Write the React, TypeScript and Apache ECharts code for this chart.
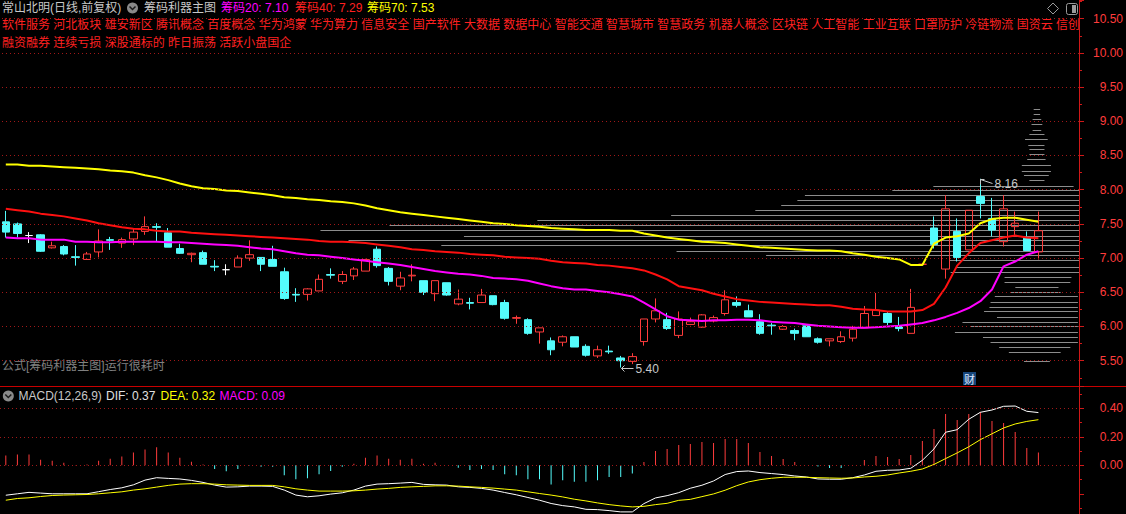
import React, { useEffect, useRef } from 'react';
import * as echarts from 'echarts';

// ---------- K-line data (90 trading days) ----------
const opens = [
  7.53, 7.50, 7.33, 7.34, 7.15, 7.17, 7.02, 6.98, 7.09, 7.27,
  7.22, 7.28, 7.39, 7.46, 7.37, 7.14, 7.05, 7.08, 6.88, 6.83,
  6.87, 7.00, 7.01, 6.98, 6.80, 6.47, 6.47, 6.52, 6.76, 6.66,
  6.74, 6.81, 7.13, 6.85, 6.59, 6.74, 6.67, 6.48, 6.64, 6.33,
  6.35, 6.35, 6.45, 6.35, 6.12, 6.10, 5.92, 5.79, 5.77, 5.85,
  5.71, 5.57, 5.64, 5.54, 5.49, 5.78, 6.11, 6.10, 5.87, 6.03,
  5.99, 6.08, 6.19, 6.35, 6.23, 6.07, 6.02, 5.96, 5.94, 6.01,
  5.82, 5.79, 5.78, 5.83, 5.98, 6.16, 6.19, 6.00, 5.90, 6.91,
  7.44, 6.84, 7.39, 7.12, 7.90, 7.58, 7.24, 7.46, 7.29, 7.09,
];
const closes = [
  7.38, 7.36, 7.33, 7.10, 7.18, 7.06, 7.01, 7.06, 7.25, 7.26,
  7.27, 7.38, 7.46, 7.45, 7.16, 7.07, 7.07, 6.91, 6.87, 6.83,
  7.00, 7.05, 6.91, 6.88, 6.41, 6.46, 6.55, 6.69, 6.75, 6.76,
  6.84, 6.98, 6.89, 6.66, 6.71, 6.75, 6.50, 6.67, 6.46, 6.40,
  6.34, 6.46, 6.32, 6.12, 6.13, 5.90, 5.98, 5.66, 5.85, 5.70,
  5.58, 5.66, 5.63, 5.50, 5.56, 6.11, 6.23, 5.97, 6.11, 6.07,
  6.17, 6.13, 6.39, 6.31, 6.14, 5.90, 6.01, 6.00, 5.90, 5.85,
  5.77, 5.82, 5.85, 5.96, 6.19, 6.24, 6.06, 5.97, 6.28, 6.91,
  7.20, 7.72, 7.01, 7.70, 7.80, 7.41, 7.72, 7.51, 7.11, 7.40,
];
const lows = [
  7.30, 7.30, 7.22, 7.09, 7.14, 7.04, 6.89, 6.98, 7.01, 7.12,
  7.15, 7.19, 7.34, 7.24, 7.16, 7.06, 6.94, 6.91, 6.81, 6.75,
  6.87, 6.96, 6.81, 6.88, 6.39, 6.36, 6.38, 6.52, 6.70, 6.62,
  6.68, 6.81, 6.86, 6.60, 6.53, 6.66, 6.46, 6.37, 6.45, 6.31,
  6.25, 6.35, 6.31, 6.10, 6.04, 5.88, 5.75, 5.58, 5.71, 5.70,
  5.56, 5.54, 5.60, 5.40, 5.45, 5.72, 6.06, 5.95, 5.83, 6.02,
  5.98, 6.06, 6.16, 6.28, 6.14, 5.88, 5.88, 5.95, 5.80, 5.85,
  5.75, 5.71, 5.76, 5.78, 5.98, 6.16, 6.02, 5.93, 5.90, 6.91,
  7.14, 6.70, 6.95, 7.12, 7.58, 7.32, 7.17, 7.34, 7.11, 6.98,
];
const highs = [
  7.69, 7.52, 7.38, 7.35, 7.24, 7.19, 7.19, 7.09, 7.42, 7.31,
  7.30, 7.44, 7.61, 7.51, 7.44, 7.21, 7.08, 7.11, 6.97, 6.91,
  7.04, 7.26, 7.01, 7.18, 6.86, 6.56, 6.56, 6.76, 6.85, 6.81,
  6.87, 6.99, 7.17, 6.87, 6.80, 6.91, 6.67, 6.67, 6.64, 6.54,
  6.42, 6.55, 6.45, 6.39, 6.16, 6.12, 5.98, 5.84, 5.87, 5.85,
  5.74, 5.72, 5.72, 5.57, 5.61, 6.11, 6.41, 6.20, 6.22, 6.13,
  6.18, 6.16, 6.53, 6.44, 6.32, 6.18, 6.05, 6.02, 5.97, 6.01,
  5.84, 5.82, 5.93, 6.01, 6.30, 6.49, 6.21, 6.14, 6.55, 6.91,
  7.61, 7.92, 7.58, 7.70, 8.16, 7.88, 7.92, 7.68, 7.39, 7.68,
];
const whiteDoji = [2, 19];

// ---------- 筹码 lines ----------
const chip70 = [
  8.37, 8.37, 8.35, 8.35, 8.34, 8.33, 8.32, 8.31, 8.30, 8.28,
  8.27, 8.25, 8.21, 8.18, 8.14, 8.09, 8.05, 8.02, 8.01, 7.99,
  7.98, 7.96, 7.94, 7.92, 7.89, 7.88, 7.86, 7.85, 7.83, 7.82,
  7.80, 7.77, 7.73, 7.70, 7.67, 7.65, 7.63, 7.61, 7.59, 7.57,
  7.55, 7.53, 7.51, 7.50, 7.48, 7.47, 7.46, 7.44, 7.43, 7.42,
  7.41, 7.41, 7.41, 7.40, 7.40, 7.36, 7.33, 7.30, 7.28, 7.26,
  7.24, 7.23, 7.22, 7.20, 7.18, 7.16, 7.15, 7.14, 7.13, 7.12,
  7.11, 7.11, 7.10, 7.07, 7.05, 7.02, 7.00, 6.98, 6.90, 6.90,
  7.21, 7.30, 7.32, 7.36, 7.51, 7.57, 7.59, 7.59, 7.56, 7.53,
];
const chip40 = [
  7.72, 7.70, 7.68, 7.65, 7.63, 7.61, 7.58, 7.55, 7.51, 7.48,
  7.45, 7.43, 7.42, 7.40, 7.39, 7.39, 7.37, 7.36, 7.35, 7.34,
  7.33, 7.32, 7.31, 7.30, 7.29, 7.28, 7.27, 7.25, 7.24, 7.24,
  7.23, 7.22, 7.20, 7.18, 7.16, 7.13, 7.12, 7.10, 7.09, 7.08,
  7.06, 7.05, 7.04, 7.02, 7.01, 7.00, 6.99, 6.96, 6.94, 6.93,
  6.92, 6.90, 6.89, 6.87, 6.85, 6.82, 6.76, 6.69, 6.59, 6.56,
  6.53, 6.48, 6.44, 6.40, 6.38, 6.36, 6.35, 6.34, 6.33, 6.32,
  6.31, 6.31, 6.29, 6.26, 6.25, 6.24, 6.22, 6.22, 6.22, 6.24,
  6.33, 6.57, 6.89, 7.07, 7.22, 7.26, 7.30, 7.33, 7.30, 7.29,
];
const chip20 = [
  7.30, 7.29, 7.29, 7.27, 7.27, 7.27, 7.24, 7.24, 7.23, 7.23,
  7.24, 7.24, 7.24, 7.24, 7.23, 7.23, 7.22, 7.21, 7.20, 7.19,
  7.18, 7.16, 7.14, 7.13, 7.10, 7.07, 7.05, 7.04, 7.02, 7.00,
  6.98, 6.96, 6.94, 6.92, 6.90, 6.87, 6.84, 6.81, 6.79, 6.77,
  6.76, 6.74, 6.71, 6.70, 6.69, 6.67, 6.63, 6.59, 6.56, 6.54,
  6.54, 6.52, 6.50, 6.47, 6.44, 6.35, 6.25, 6.15, 6.10, 6.09,
  6.08, 6.09, 6.09, 6.10, 6.10, 6.09, 6.07, 6.06, 6.05, 6.03,
  6.01, 6.00, 5.99, 5.98, 5.98, 5.99, 6.00, 6.01, 6.03, 6.05,
  6.09, 6.14, 6.20, 6.27, 6.37, 6.54, 6.88, 6.95, 7.05, 7.10,
];

// ---------- chip distribution (price level, start, end: volume units from right axis) ----------
const chipPrice = [
  9.18, 9.10, 9.03, 8.96, 8.88, 8.81, 8.74, 8.66, 8.59, 8.52, 8.45, 8.36, 8.28, 8.21, 8.14,
  8.06, 7.99, 7.92, 7.85, 7.77, 7.70, 7.63, 7.55, 7.48, 7.41, 7.33, 7.26, 7.19, 7.11, 7.04, 6.97,
  6.87, 6.80, 6.73, 6.65, 6.58, 6.51, 6.44, 6.36, 6.29, 6.22, 6.14, 6.07, 6.00, 5.92, 5.85, 5.78, 5.70, 5.63, 5.50,
];
const chipFrom = [
  3.6, 3.6, 3.5, 3.4, 3.5, 3.2, 2.9, 3.2, 3.2, 3.2, 3.1, 2.6, 2.6, 2.8, 3.2,
  0.5, 0, 0, 0, 0, 0, 0, 0, 0, 0, 0, 0, 0, 0, 0, 0,
  0, 0, 0.7, 0.8, 1.9, 1.7, 0.1, 0.1, 0.1, 0.1, 0.1, 0.1, 0.1, 0.1, 0.1, 0.1, 0.8, 1.7, 2.7,
];
const chipTo = [
  4.2, 4.2, 4.3, 4.4, 4.3, 4.6, 5.0, 4.7, 4.6, 4.6, 4.8, 5.3, 5.3, 5.1, 4.6,
  13.5, 17.3, 25.4, 26.1, 27.6, 30.0, 37.8, 50.2, 63.9, 70.3, 57.0, 67.7, 59.1, 37.3, 29.0, 12.0,
  11.4, 11.9, 6.9, 6.9, 5.9, 6.3, 7.8, 8.2, 8.3, 8.8, 7.6, 10.8, 10.1, 11.5, 8.9, 8.2, 7.4, 6.5, 5.1,
];

// ---------- MACD ----------
const dif = [
  -0.21, -0.20, -0.19, -0.195, -0.20, -0.20, -0.20, -0.20, -0.185, -0.17,
  -0.158, -0.137, -0.104, -0.087, -0.092, -0.096, -0.106, -0.12, -0.139, -0.153,
  -0.151, -0.146, -0.146, -0.148, -0.174, -0.209, -0.221, -0.214, -0.202, -0.193,
  -0.174, -0.146, -0.132, -0.129, -0.125, -0.12, -0.134, -0.137, -0.139, -0.151,
  -0.155, -0.162, -0.174, -0.191, -0.207, -0.226, -0.245, -0.268, -0.283, -0.292,
  -0.309, -0.311, -0.318, -0.327, -0.327, -0.269, -0.229, -0.213, -0.192, -0.161,
  -0.140, -0.110, -0.065, -0.044, -0.040, -0.051, -0.058, -0.065, -0.075, -0.082,
  -0.096, -0.098, -0.098, -0.087, -0.068, -0.042, -0.035, -0.033, -0.021, 0.035,
  0.115, 0.232, 0.250, 0.323, 0.372, 0.388, 0.414, 0.416, 0.379, 0.37,
];
const dea = [
  -0.245, -0.233, -0.228, -0.219, -0.212, -0.209, -0.207, -0.205, -0.2, -0.193,
  -0.186, -0.174, -0.165, -0.153, -0.141, -0.132, -0.129, -0.129, -0.132, -0.137,
  -0.139, -0.141, -0.141, -0.141, -0.151, -0.165, -0.174, -0.181, -0.181, -0.181,
  -0.179, -0.174, -0.167, -0.162, -0.155, -0.151, -0.148, -0.144, -0.144, -0.146,
  -0.151, -0.155, -0.16, -0.167, -0.174, -0.186, -0.198, -0.209, -0.222, -0.238,
  -0.25, -0.264, -0.276, -0.285, -0.292, -0.288, -0.276, -0.267, -0.246, -0.239,
  -0.22, -0.201, -0.175, -0.143, -0.117, -0.101, -0.091, -0.084, -0.084, -0.084,
  -0.087, -0.089, -0.091, -0.089, -0.082, -0.077, -0.068, -0.054, -0.042, -0.026,
  0.006, 0.047, 0.087, 0.13, 0.18, 0.221, 0.262, 0.29, 0.308, 0.32,
];
const macdHist = [
  0.068, 0.075, 0.075, 0.039, 0.032, 0.017, 0.002, 0.006, 0.032, 0.046,
  0.061, 0.09, 0.111, 0.126, 0.09, 0.053, 0.025, 0.005, -0.026, -0.041,
  -0.026, -0.002, -0.011, -0.011, -0.069, -0.098, -0.091, -0.062, -0.04, -0.011,
  0.01, 0.053, 0.068, 0.046, 0.039, 0.046, 0.01, 0.017, 0.001, -0.018,
  -0.033, -0.026, -0.033, -0.062, -0.069, -0.098, -0.098, -0.134, -0.105, -0.115,
  -0.115, -0.105, -0.082, -0.082, -0.058, 0.023, 0.10, 0.115, 0.143, 0.15,
  0.164, 0.157, 0.185, 0.185, 0.157, 0.094, 0.065, 0.044, 0.023, 0.001,
  -0.009, -0.019, -0.019, 0.0, 0.037, 0.065, 0.058, 0.044, 0.073, 0.171,
  0.255, 0.36, 0.318, 0.36, 0.374, 0.311, 0.297, 0.234, 0.122, 0.09,
];

// ---------- ticks / texts ----------
const priceGrid = [5.5, 6.0, 6.5, 7.0, 7.5, 8.0, 8.5, 9.0, 9.5, 10.0, 10.5];
const macdGrid = [0, 0.2, 0.4];
const SLOTS = 93;
const titleStock = '常山北明(日线,前复权)';
const titleFormula = '筹码利器主图';
const chipLabels = ['筹码20: 7.10', '筹码40: 7.29', '筹码70: 7.53'];
const tagsLine1 =
  '软件服务 河北板块 雄安新区 腾讯概念 百度概念 华为鸿蒙 华为算力 信息安全 国产软件 大数据 数据中心 智能交通 智慧城市 智慧政务 机器人概念 区块链 人工智能 工业互联 口罩防护 冷链物流 国资云 信创';
const tagsLine2 = '融资融券 连续亏损 深股通标的 昨日振荡 活跃小盘国企';
const slowNote = '公式[筹码利器主图]运行很耗时';
const macdTitle = ['MACD(12,26,9)', 'DIF: 0.37', 'DEA: 0.32', 'MACD: 0.09'];

const RED = '#ff3c3c';
const CYAN = '#54fcfc';
const AXIS = '#d01818';
const DOT = '#a01818';
const FONT = '12px "Liberation Sans", "Noto Sans CJK SC", sans-serif';

function icon(cx: number, cy: number) {
  return [
    { type: 'circle', shape: { cx, cy, r: 5.5 }, style: { fill: '#8a8a8a' } },
    {
      type: 'polyline',
      shape: { points: [[cx - 3, cy - 1.5], [cx, cy + 1.5], [cx + 3, cy - 1.5]] },
      style: { stroke: '#1a1a1a', lineWidth: 1.5, fill: 'none' },
    },
  ];
}

function txt(x: number, y: number, text: string, fill: string, extra: any = {}) {
  return { type: 'text', x, y, style: { text, fill, font: FONT, verticalAlign: 'middle', ...extra } };
}

export default function App() {
  const ref = useRef<HTMLDivElement>(null);

  useEffect(() => {
    if (!ref.current) return;
    const chart = echarts.init(ref.current, null, { renderer: 'svg' });
    const cats = Array.from({ length: SLOTS }, (_, i) => String(i));

    const kData = opens.map((o, i) => {
      const v = [o, closes[i], lows[i], highs[i]];
      if (whiteDoji.includes(i)) {
        return {
          value: v,
          itemStyle: { color: '#fff', color0: '#fff', borderColor: '#fff', borderColor0: '#fff', borderColorDoji: '#fff' },
        };
      }
      return v;
    });

    const chipData = chipPrice.map((p, i) => [chipFrom[i], p, chipTo[i]]);

    let lowIdx = 0;
    let highIdx = 0;
    lows.forEach((v, i) => { if (v < lows[lowIdx]) lowIdx = i; });
    highs.forEach((v, i) => { if (v > highs[highIdx]) highIdx = i; });
    const annData = [
      [lowIdx, lows[lowIdx], 0],
      [highIdx, highs[highIdx], 1],
    ];

    const option: any = {
      animation: false,
      backgroundColor: '#000',
      grid: [
        { left: 0, top: 0, width: 1081, height: 386 },
        { left: 0, top: 386, width: 1081, height: 128 },
      ],
      xAxis: [
        { type: 'category', gridIndex: 0, data: cats, show: false, boundaryGap: true },
        { type: 'value', gridIndex: 0, min: 0, max: 100, inverse: true, show: false },
        { type: 'category', gridIndex: 1, data: cats, show: false, boundaryGap: true },
      ],
      yAxis: [
        {
          type: 'value',
          gridIndex: 0,
          position: 'right',
          min: 5.1301,
          max: 10.7734,
          splitNumber: 11,
          minInterval: 0.5,
          maxInterval: 0.5,
          axisLine: { show: true, onZero: false, lineStyle: { color: AXIS, width: 1 } },
          axisTick: { show: true, length: 5, lineStyle: { color: AXIS } },
          minorTick: { show: true, splitNumber: 2, length: 3, lineStyle: { color: AXIS } },
          splitLine: { show: false },
          axisLabel: {
            color: RED,
            fontSize: 12,
            fontFamily: '"Liberation Sans", sans-serif',
            align: 'right',
            margin: 44,
            formatter: (v: number) => {
              const r = Math.round(v * 2) / 2;
              return Math.abs(v - r) < 1e-6 && r >= 5.5 && r <= 10.5 ? r.toFixed(2) : '';
            },
          },
        },
        {
          type: 'value',
          gridIndex: 1,
          position: 'right',
          min: -0.3418,
          max: 0.5565,
          splitNumber: 4,
          minInterval: 0.2,
          maxInterval: 0.2,
          axisLine: { show: true, onZero: false, lineStyle: { color: AXIS, width: 1 } },
          axisTick: { show: true, length: 5, lineStyle: { color: AXIS } },
          minorTick: { show: true, splitNumber: 2, length: 3, lineStyle: { color: AXIS } },
          splitLine: { show: false },
          axisLabel: {
            color: RED,
            fontSize: 12,
            fontFamily: '"Liberation Sans", sans-serif',
            align: 'right',
            margin: 44,
            formatter: (v: number) => {
              const r = Math.round(v * 5) / 5;
              return Math.abs(v - r) < 1e-6 && r > -0.01 && r < 0.5 ? Math.abs(r).toFixed(2) : '';
            },
          },
        },
      ],
      graphic: [
        txt(2, 8, titleStock, '#c8c8c8'),
        ...icon(132.5, 8),
        txt(144, 8, titleFormula, '#c8c8c8'),
        txt(221, 8, chipLabels[0], '#ff00ff'),
        txt(295, 8, chipLabels[1], '#ff2020'),
        txt(367, 8, chipLabels[2], '#ffff00'),
        txt(2, 25, tagsLine1, '#ff2020', { width: 1080, overflow: 'truncate', ellipsis: '' }),
        txt(2, 43, tagsLine2, '#ff2020'),
        txt(2, 366, slowNote, '#808080'),
        {
          type: 'polygon',
          shape: { points: [[1053, 3], [1058.5, 8.5], [1053, 14], [1047.5, 8.5]] },
          style: { stroke: '#9a9a9a', fill: 'none', lineWidth: 1 },
        },
        { type: 'rect', shape: { x: 1066.5, y: 3.5, width: 11, height: 11, r: 2 }, style: { stroke: '#9a9a9a', fill: 'none', lineWidth: 1 } },
        { type: 'rect', shape: { x: 1072, y: 5, width: 4, height: 8 }, style: { fill: '#9a9a9a' } },
        { type: 'line', shape: { x1: 0, y1: 386.5, x2: 1126, y2: 386.5 }, style: { stroke: '#c80000', lineWidth: 1 } },
        { type: 'rect', shape: { x: 963, y: 372, width: 13, height: 13 }, style: { fill: '#16457a' } },
        { type: 'text', x: 969.5, y: 378.5, style: { text: '财', fill: '#dfe8ff', font: '11px "Noto Sans CJK SC"', align: 'center', verticalAlign: 'middle' } },
        ...icon(8.3, 396),
        txt(18.5, 396, macdTitle[0], '#c8c8c8'),
        txt(106, 396, macdTitle[1], '#e0e0e0'),
        txt(160.5, 396, macdTitle[2], '#ffff00'),
        txt(219.5, 396, macdTitle[3], '#ff00ff'),
      ],
      series: [
        {
          name: 'chips',
          type: 'custom',
          xAxisIndex: 1,
          yAxisIndex: 0,
          z: 1,
          silent: true,
          encode: { x: [0, 2], y: 1 },
          data: chipData,
          renderItem: (params: any, api: any) => {
            const p = api.value(1);
            const a = api.coord([api.value(0), p]);
            const b = api.coord([api.value(2), p]);
            const y = Math.round(a[1]) + 0.5;
            return {
              type: 'line',
              shape: { x1: a[0], y1: y, x2: b[0], y2: y },
              style: { stroke: '#8c8c8c', lineWidth: 1 },
            };
          },
          markLine: {
            silent: true,
            symbol: ['none', 'none'],
            label: { show: false },
            lineStyle: { color: DOT, type: [1, 3], width: 1 },
            data: priceGrid.map((v) => ({ yAxis: v })),
          },
        },
        {
          name: 'K',
          type: 'candlestick',
          xAxisIndex: 0,
          yAxisIndex: 0,
          z: 3,
          barWidth: 8,
          data: kData,
          itemStyle: {
            color: 'rgba(0,0,0,0)',
            color0: CYAN,
            borderColor: RED,
            borderColor0: CYAN,
            borderWidth: 1,
          },
        },
        {
          name: '筹码70',
          type: 'line',
          xAxisIndex: 0,
          yAxisIndex: 0,
          z: 4,
          symbol: 'none',
          data: chip70,
          lineStyle: { color: '#ffff00', width: 2 },
        },
        {
          name: '筹码40',
          type: 'line',
          xAxisIndex: 0,
          yAxisIndex: 0,
          z: 4,
          symbol: 'none',
          data: chip40,
          lineStyle: { color: '#ff1010', width: 2 },
        },
        {
          name: '筹码20',
          type: 'line',
          xAxisIndex: 0,
          yAxisIndex: 0,
          z: 4,
          symbol: 'none',
          data: chip20,
          lineStyle: { color: '#ff00ff', width: 2 },
        },
        {
          name: 'extremes',
          type: 'custom',
          xAxisIndex: 0,
          yAxisIndex: 0,
          z: 6,
          silent: true,
          data: annData,
          renderItem: (params: any, api: any) => {
            const v = api.value(1);
            const kind = api.value(2);
            const pt = api.coord([api.value(0), v]);
            const x = Math.round(pt[0]) + 0.5;
            const y = Math.round(pt[1]) + 0.5;
            const col = '#c8c8c8';
            const label = Number(v).toFixed(2);
            if (kind === 0) {
              return {
                type: 'group',
                children: [
                  { type: 'line', shape: { x1: x, y1: y, x2: x + 12, y2: y }, style: { stroke: col, lineWidth: 1 } },
                  { type: 'polyline', shape: { points: [[x + 3, y - 3], [x, y], [x + 3, y + 3]] }, style: { stroke: col, fill: 'none', lineWidth: 1 } },
                  { type: 'text', x: x + 14, y: y, style: { text: label, fill: col, font: FONT, verticalAlign: 'middle' } },
                ],
              };
            }
            return {
              type: 'group',
              children: [
                { type: 'line', shape: { x1: x, y1: y, x2: x + 12, y2: y + 4 }, style: { stroke: col, lineWidth: 1 } },
                { type: 'polyline', shape: { points: [[x, y + 5], [x, y], [x + 4, y]] }, style: { stroke: col, fill: 'none', lineWidth: 1 } },
                { type: 'text', x: x + 14, y: y + 4, style: { text: label, fill: col, font: FONT, verticalAlign: 'middle' } },
              ],
            };
          },
        },
        {
          name: 'MACD',
          type: 'bar',
          xAxisIndex: 2,
          yAxisIndex: 1,
          barWidth: 1,
          z: 2,
          data: macdHist.map((v) => ({ value: v, itemStyle: { color: v >= 0 ? RED : CYAN } })),
          markLine: {
            silent: true,
            symbol: ['none', 'none'],
            label: { show: false },
            lineStyle: { color: DOT, type: [1, 3], width: 1 },
            data: macdGrid.map((v) => ({ yAxis: v })),
          },
        },
        {
          name: 'DIF',
          type: 'line',
          xAxisIndex: 2,
          yAxisIndex: 1,
          z: 4,
          symbol: 'none',
          data: dif,
          lineStyle: { color: '#ffffff', width: 1 },
        },
        {
          name: 'DEA',
          type: 'line',
          xAxisIndex: 2,
          yAxisIndex: 1,
          z: 4,
          symbol: 'none',
          data: dea,
          lineStyle: { color: '#ffff00', width: 1 },
        },
      ],
    };

    chart.setOption(option);
    return () => chart.dispose();
  }, []);

  return (
    <div
      ref={ref}
      style={{ position: 'fixed', left: 0, top: 0, width: 1126, height: 514, background: '#000' }}
    />
  );
}
